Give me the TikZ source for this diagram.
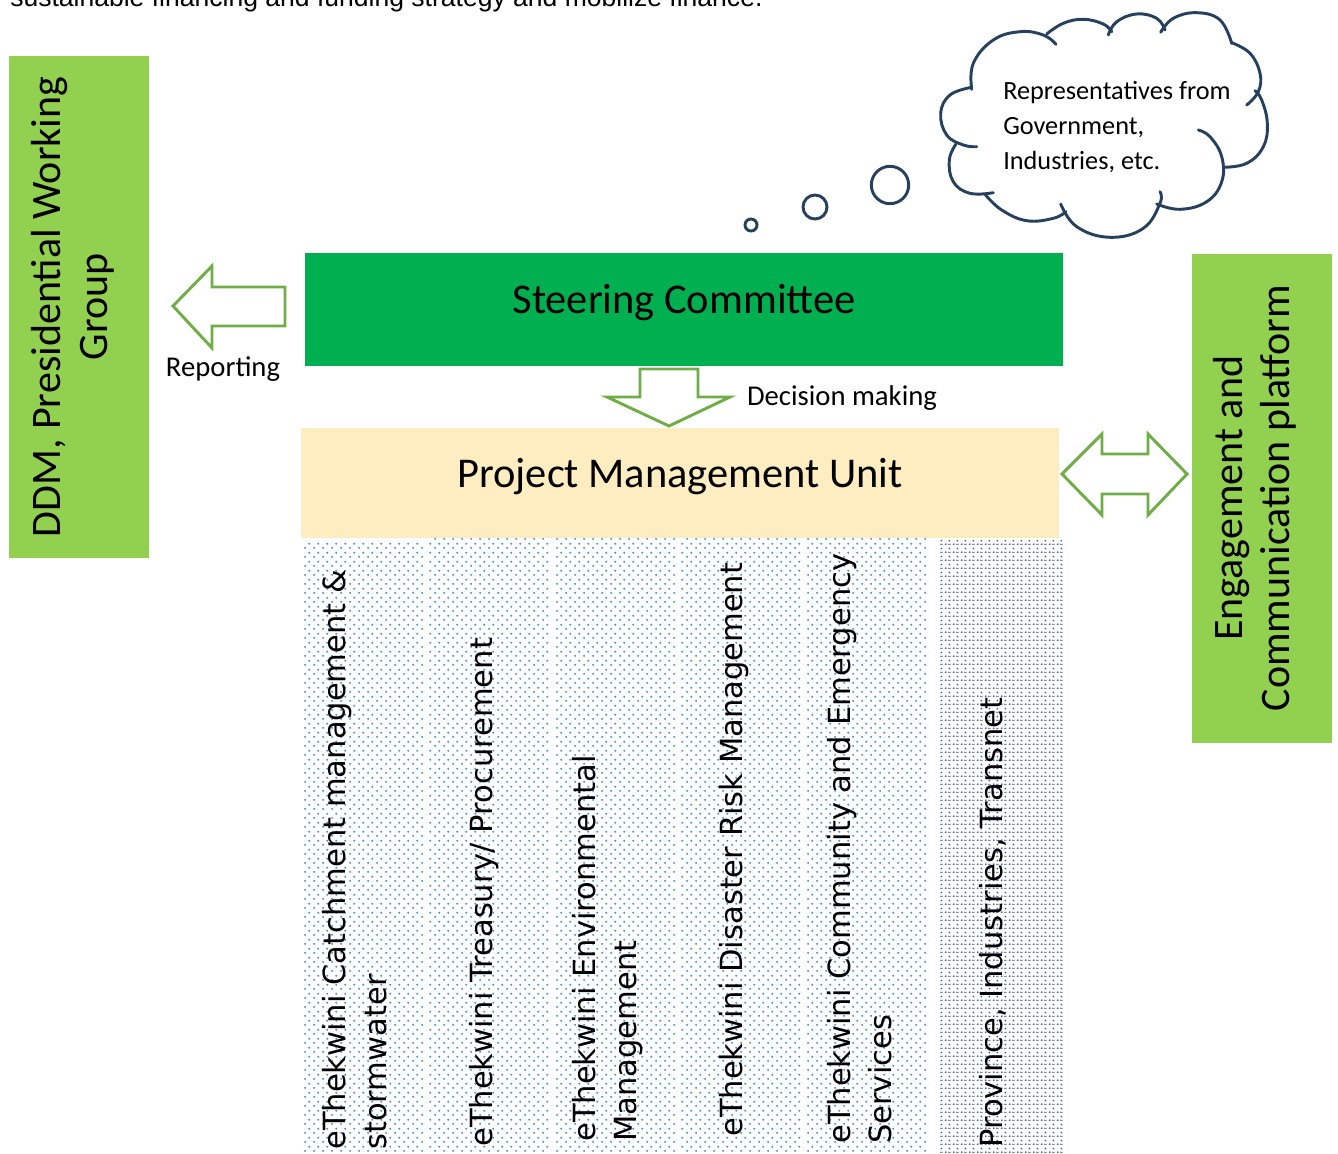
\documentclass[tikz,border=0pt]{standalone}
\usepackage{fontspec}
\setmainfont{Carlito}
\newfontfamily\colfont{DejaVu Sans}
\newfontfamily\bodyfont{Liberation Sans}
\usetikzlibrary{patterns.meta}

\definecolor{steergreen}{HTML}{00B050}
\definecolor{sidegreen}{HTML}{92D050}
\definecolor{pmucream}{HTML}{FFEDC2}
\definecolor{arrowgreen}{HTML}{70AD47}
\definecolor{cloudblue}{RGB}{38,64,94}
\definecolor{dotblue}{HTML}{4F93D2}
\definecolor{dotnavy}{HTML}{2A4A94}

% staggered dot fill for the department columns
\tikzdeclarepattern{
  name=deptdots,
  type=uncolored,
  bounding box={(0pt,0pt) and (6.5pt,6.5pt)},
  tile size={(6.5pt,6.5pt)},
  code={
    \fill (1.625pt,1.625pt) circle (0.85pt);
    \fill (4.875pt,4.875pt) circle (0.85pt);
  }
}
\tikzdeclarepattern{
  name=partnerdots,
  type=uncolored,
  bounding box={(0pt,0pt) and (6pt,6pt)},
  tile size={(6pt,6pt)},
  code={
    \fill (1.5pt,1.5pt) circle (0.8pt);
    \fill (4.5pt,4.5pt) circle (0.8pt);
    \fill (3.5pt,1.15pt) rectangle (5.5pt,1.85pt);
  }
}

\tikzset{
  blockarrow/.style={draw=arrowgreen, fill=white, line width=2.2pt, line join=miter},
  puff/.style={draw=cloudblue, line width=2.2pt, line cap=round},
  bigtitle/.style={font=\fontsize{31.8}{36}\selectfont, inner sep=0pt},
  sidetitle/.style={font=\fontsize{31.5}{35.5}\selectfont, align=center, rotate=90, inner sep=0pt},
  smalllabel/.style={font=\fontsize{21.5}{26}\selectfont, inner sep=0pt},
  dept/.style={font=\colfont\fontsize{22.9}{30.75}\selectfont, align=left, rotate=90, anchor=north west, inner sep=0pt},
  deptcol/.style={pattern=deptdots, pattern color=dotblue},
}

\begin{document}
\begin{tikzpicture}[x=0.75pt, y=-0.75pt]
\useasboundingbox (0,0) rectangle (1338,1153);

% running text of the page, cut by the top edge
\node[font=\bodyfont\fontsize{19.9}{24}\selectfont, anchor=base west, inner sep=0pt] (bodyline) at (10,6)
  {sustainable financing and funding strategy and mobilize finance.};

% side panels
\fill[sidegreen] (9,56) rectangle (149,558);
\node[sidetitle] (ddm) at (73,307) {DDM, Presidential Working\\Group};
\fill[sidegreen] (1192,254) rectangle (1332,743);
\node[sidetitle] (engage) at (1255,498) {Engagement and\\Communication platform};

% steering committee and project management unit
\fill[steergreen] (305,253) rectangle (1063,366);
\node[bigtitle] (steer) at (684,303) {Steering Committee};
\fill[pmucream] (301,428) rectangle (1059,538);
\node[bigtitle] (pmu) at (680,477) {Project Management Unit};

% department columns
\fill[deptcol] (302,540) rectangle (425,1153);
\fill[deptcol] (429,538) rectangle (551,1153);
\fill[deptcol] (554,538) rectangle (677,1153);
\fill[deptcol] (680,538) rectangle (803,1153);
\fill[deptcol] (806,538) rectangle (928,1153);
\fill[pattern=partnerdots, pattern color=dotnavy] (940,540) rectangle (1063,1153);

\node[dept] (d1) at (322,1150) {eThekwini Catchment management \&\\stormwater};
\node[dept] (d2) at (469,1147) {eThekwini Treasury/ Procurement};
\node[dept] (d3) at (572,1142) {eThekwini Environmental\\Management};
\node[dept] (d4) at (719,1137) {eThekwini Disaster Risk Management};
\node[dept] (d5) at (827,1144) {eThekwini Community and Emergency\\Services};
\node[dept] (d6) at (979,1148) {Province, Industries, Transnet};

% block arrows
\draw[blockarrow] (173,306) -- (212,266) -- (212,287) -- (285,287) -- (285,326)
  -- (212,326) -- (212,348) -- cycle;
\node[smalllabel] (report) at (223,369) {Reporting};

\draw[blockarrow] (640,369) -- (698,369) -- (698,397) -- (730,397) -- (669,426)
  -- (607,397) -- (640,397) -- cycle;
\node[smalllabel] (decide) at (842,398) {Decision making};

\draw[blockarrow] (1062,474) -- (1102,434) -- (1102,454) -- (1148,454) -- (1148,434)
  -- (1187,474) -- (1148,515) -- (1148,494) -- (1102,494) -- (1102,515) -- cycle;

% thought bubbles
\draw[puff] (751,225) circle[radius=4.5pt];
\draw[puff] (815,207) circle[radius=9pt];
\draw[puff] (890,185) circle[radius=14pt];

% cloud outline, one stroke per puff
\draw[puff] plot[smooth, tension=0.7] coordinates {(971.7,87.3) (950,95) (940.7,113.3) (946.7,135) (963.3,145) (976.7,146.7)};
\draw[puff] plot[smooth, tension=0.7] coordinates {(956,144) (949.3,160) (953.3,181.7) (970,193.3) (993.3,192.7)};
\draw[puff] plot[smooth, tension=0.7] coordinates {(985,194.3) (1001.7,210) (1026.7,220.7) (1053.3,218.3) (1066,211.7)};
\draw[puff] plot[smooth, tension=0.7] coordinates {(1060.7,204) (1076.7,226.7) (1110,237.3) (1143.3,228.3) (1160,203.3) (1160,191.7)};
\draw[puff] plot[smooth, tension=0.7] coordinates {(1156.7,204) (1180,209.3) (1206.7,201.7) (1221.7,181.7) (1221.7,156.7) (1210,136.7) (1198.3,130)};
\draw[puff] plot[smooth, tension=0.7] coordinates {(1223.3,167.3) (1246.7,163.3) (1263.3,146.7) (1267.3,123.3) (1261.7,100) (1255,90.7)};
\draw[puff] plot[smooth, tension=0.7] coordinates {(1231.7,42.7) (1250,53.3) (1260,73.3) (1258.3,91.7) (1246.7,105)};
\draw[puff] plot[smooth, tension=0.7] coordinates {(1160.7,32.3) (1173.3,18.3) (1196.7,12.7) (1220,20) (1231.7,43.3)};
\draw[puff] plot[smooth, tension=0.7] coordinates {(1108.3,35) (1116.7,21.7) (1136.7,14) (1156.7,18.3) (1165,30)};
\draw[puff] plot[smooth, tension=0.7] coordinates {(1046.7,34) (1063.3,23.3) (1083.3,19.3) (1103.3,24) (1111.7,31.7)};
\draw[puff] plot[smooth, tension=0.7] coordinates {(971.7,89.3) (973.3,63.3) (993.3,40) (1020,31.7) (1043.3,35) (1056,44.3)};

\node[font=\fontsize{19.7}{26.25}\selectfont, align=left, anchor=west, inner sep=0pt] (reps) at (1003,127)
  {Representatives from\\Government,\\Industries, etc.};
\end{tikzpicture}
\end{document}
